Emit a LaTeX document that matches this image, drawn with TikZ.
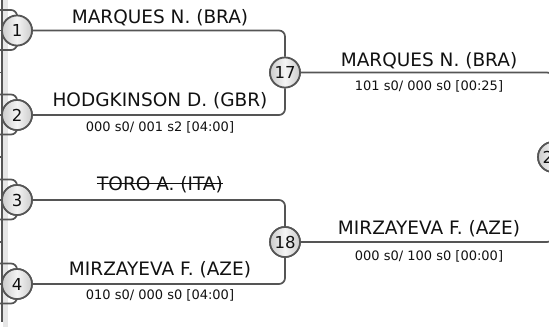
\documentclass[tikz,border=0pt]{standalone}
\usepackage{fontspec}
\setmainfont{DejaVu Sans}
\definecolor{lc}{HTML}{555555}
\definecolor{cg}{HTML}{CCCCCC}
\definecolor{cw}{HTML}{F4F4F4}
\definecolor{bandc}{HTML}{E6E6E6}
\definecolor{tc}{HTML}{111111}
\begin{document}
\begin{tikzpicture}[x=1bp,y=-1bp,
  conn/.style={draw=lc, line width=1.7bp, rounded corners=6bp},
  seed/.style={circle, draw=lc, line width=1.7bp, minimum size=30bp, inner sep=0pt,
    left color=cg, right color=cg, middle color=cw, text=tc,
    font=\fontsize{16.5bp}{16.5bp}\selectfont},
  pname/.style={anchor=base, inner sep=0pt, text=tc, font=\fontsize{18.5bp}{20bp}\selectfont},
  pscore/.style={anchor=base, inner sep=0pt, text=tc, font=\fontsize{13bp}{15bp}\selectfont}]
\useasboundingbox (0,0) rectangle (549,327);
\clip (0,0) rectangle (549,327);
% left band and frame line
\fill[bandc] (3,0) rectangle (8,327);
% free ends
\coordinate (tb) at (2,322);
\draw[lc, line width=1.7bp] (2,0) -- (tb);
\foreach \yy/\nm in {30.5/k1,72.5/k2,115/k3,157/k4,200/k5,242/k6,284/k7}{
  \coordinate (\nm a) at (0,\yy);
  \coordinate (\nm b) at (2,\yy);
  \draw[lc, line width=1.5bp] (\nm a) -- (\nm b);
}
% circles
\node[seed] (c1) at (17,30.5) {1};
\node[seed] (c2) at (17,115) {2};
\node[seed] (c3) at (17,200) {3};
\node[seed] (c4) at (17,284) {4};
\node[seed] (c17) at (285,72.5) {17};
\node[seed] (c18) at (285,242) {18};
\node[seed] (c25) at (553,157) {25};
% previous-round stubs
\foreach \c/\yy in {1/30.5,2/115,3/200,4/284}{
  \coordinate (u\c) at (0,\yy-20.5);
  \coordinate (d\c) at (0,\yy+19.5);
  \draw[conn] (u\c) -| (c\c);
  \draw[conn] (d\c) -| (c\c);
}
% connectors
\draw[conn] (c1) -| (c17);
\draw[conn] (c2) -| (c17);
\draw[conn] (c3) -| (c18);
\draw[conn] (c4) -| (c18);
\draw[conn] (c17) -| (c25);
\draw[conn] (c18) -| (c25);
% redraw circles on top
\node[seed] at (c1) {1};
\node[seed] at (c2) {2};
\node[seed] at (c3) {3};
\node[seed] at (c4) {4};
\node[seed] at (c17) {17};
\node[seed] at (c18) {18};
\node[seed] at (c25) {25};
% names and scores
\node[pname] (n1) at (160,23) {MARQUES N. (BRA)};
\node[pname] (n2) at (160,106.5) {HODGKINSON D. (GBR)};
\node[pscore] (s2) at (160,131.5) {000 s0/ 001 s2 [04:00]};
\node[pname] (n3) at (160,190) {TORO A. (ITA)};
\draw[tc, line width=1bp] ([yshift=6.8bp]n3.base west) -- ([yshift=6.8bp]n3.base east);
\node[pname] (n4) at (160,275.5) {MIRZAYEVA F. (AZE)};
\node[pscore] (s4) at (160,299.5) {010 s0/ 000 s0 [04:00]};
\node[pname] (n17) at (429,66) {MARQUES N. (BRA)};
\node[pscore] (s17) at (429,90.5) {101 s0/ 000 s0 [00:25]};
\node[pname] (n18) at (429,234.3) {MIRZAYEVA F. (AZE)};
\node[pscore] (s18) at (429,260) {000 s0/ 100 s0 [00:00]};
\end{tikzpicture}
\end{document}
